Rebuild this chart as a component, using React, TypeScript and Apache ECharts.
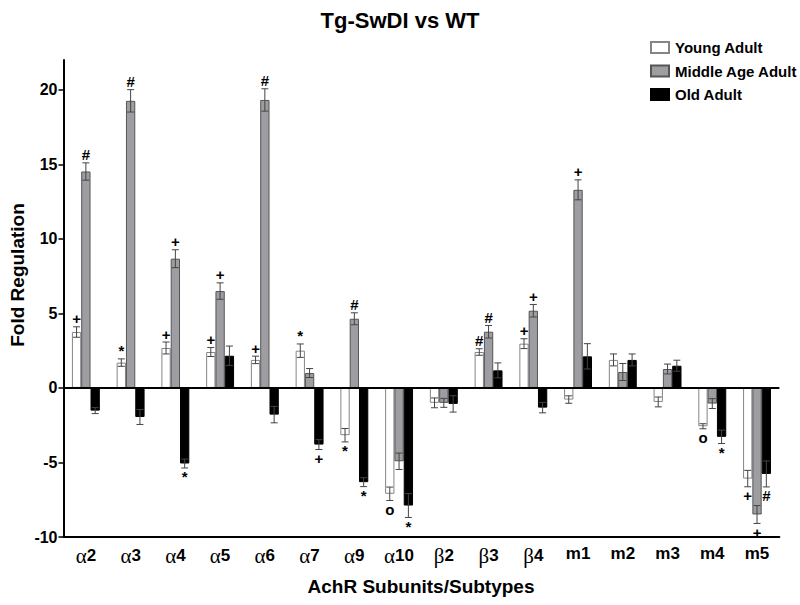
import React, { useEffect, useRef } from "react";
import * as echarts from "echarts";

const categories = ["α2", "α3", "α4", "α5", "α6", "α7", "α9", "α10", "β2", "β3", "β4", "m1", "m2", "m3", "m4", "m5"];

const young = [3.75, 1.7, 2.68, 2.41, 1.88, 2.5, -3.17, -7.1, -1.0, 2.41, 2.97, -0.78, 1.88, -0.94, -2.57, -6.08];
const youngErr = [0.35, 0.25, 0.4, 0.3, 0.25, 0.45, 0.45, 0.45, 0.33, 0.22, 0.33, 0.25, 0.4, 0.33, 0.17, 0.55];
const youngMarks = ["+", "*", "+", "+", "+", "*", "*", "o", "", "#", "+", "", "", "", "o", "+"];

const middle = [14.52, 19.26, 8.67, 6.5, 19.32, 1.0, 4.64, -4.92, -1.0, 3.77, 5.18, 13.29, 1.07, 1.27, -1.05, -8.49];
const middleErr = [0.58, 0.75, 0.6, 0.55, 0.75, 0.3, 0.4, 0.55, 0.3, 0.42, 0.42, 0.67, 0.57, 0.33, 0.33, 0.6];
const middleMarks = ["#", "#", "+", "+", "#", "", "#", "", "", "#", "+", "+", "", "", "", "+"];

const old = [-1.52, -1.95, -5.07, 2.16, -1.79, -3.8, -6.32, -7.89, -1.07, 1.18, -1.32, 2.12, 1.88, 1.49, -3.28, -5.77];
const oldErr = [0.2, 0.5, 0.3, 0.65, 0.55, 0.33, 0.3, 0.8, 0.55, 0.5, 0.35, 0.85, 0.4, 0.37, 0.45, 0.87];
const oldMarks = ["", "", "*", "", "", "+", "*", "*", "", "", "", "", "", "", "*", "#"];

const yTicks = [-10, -5, 0, 5, 10, 15, 20];

const FONT = "'Liberation Sans', Arial, sans-serif";
const BAR_FRAC = 0.208;

function errSeries(name: string, vals: number[], errs: number[], marks: string[], slot: number) {
  return {
    type: "custom",
    name: name + "-err",
    z: 10,
    silent: true,
    renderItem: (params: any, api: any) => {
      const i = api.value(0);
      const v = api.value(1);
      const e = api.value(2);
      const band = api.size([1, 0])[0];
      const dx = (slot - 1) * band * BAR_FRAC;
      const c = api.coord([i, v]);
      const x = c[0] + dx;
      const top = api.coord([i, v + e])[1];
      const bot = api.coord([i, v - e])[1];
      const cap = 3.5;
      const ls = { stroke: "#444", lineWidth: 1 };
      const children: any[] = [
        { type: "line", shape: { x1: x, y1: top, x2: x, y2: bot }, style: ls },
        { type: "line", shape: { x1: x - cap, y1: top, x2: x + cap, y2: top }, style: ls },
        { type: "line", shape: { x1: x - cap, y1: bot, x2: x + cap, y2: bot }, style: ls },
      ];
      const m = marks[params.dataIndex];
      if (m) {
        children.push({
          type: "text",
          x: x,
          y: v >= 0 ? top - 8 : bot + 9,
          style: {
            text: m,
            fill: "#000",
            font: "bold 15px " + FONT,
            textAlign: "center",
            textVerticalAlign: "middle",
          },
        });
      }
      return { type: "group", children };
    },
    data: vals.map((v, i) => [i, v, errs[i]]),
  };
}

export default function App() {
  const ref = useRef<HTMLDivElement>(null);
  useEffect(() => {
    document.body.style.margin = "0";
    const chart = echarts.init(ref.current!, null, { renderer: "svg" });
    const barBase = { type: "bar", barWidth: (BAR_FRAC * 100).toFixed(1) + "%", barGap: "0%" };
    chart.setOption({
      animation: false,
      backgroundColor: "#fff",
      title: {
        text: "Tg-SwDI vs WT",
        left: "center",
        top: 4,
        textStyle: { fontFamily: FONT, fontWeight: "bold", fontSize: 22, color: "#000" },
      },
      legend: {
        orient: "vertical",
        left: 645,
        top: 35,
        itemWidth: 18,
        itemHeight: 11,
        itemGap: 8.5,
        icon: "rect",
        data: ["Young Adult", "Middle Age Adult", "Old Adult"],
        textStyle: { fontFamily: FONT, fontWeight: "bold", fontSize: 15, color: "#000", padding: [0, 0, 0, 1] },
      },
      grid: { left: 63.5, right: 20.6, top: 60, bottom: 68 },
      xAxis: {
        type: "category",
        data: categories,
        position: "bottom",
        axisLine: { onZero: false, lineStyle: { color: "#000", width: 2 } },
        axisTick: { alignWithLabel: true, length: 5, lineStyle: { color: "#000", width: 1.5 } },
        axisLabel: {
          margin: 8,
          interval: 0,
          formatter: (v: string) =>
            v[0] === "α" || v[0] === "β" ? `{g|${v[0]}}{n|${v.slice(1)}}` : `{n|${v}}`,
          rich: {
            g: { fontFamily: "'Liberation Serif', 'DejaVu Serif', serif", fontSize: 21, color: "#000" },
            n: { fontFamily: FONT, fontWeight: "bold", fontSize: 17, color: "#000" },
          },
        },
      },
      yAxis: {
        type: "value",
        min: -10,
        max: 22,
        interval: 5,
        splitLine: { show: false },
        axisLine: { show: true, lineStyle: { color: "#000", width: 2 } },
        axisTick: { show: true, length: 5, customValues: yTicks, lineStyle: { color: "#000", width: 1.5 } },
        axisLabel: {
          customValues: yTicks,
          margin: 6,
          fontFamily: FONT,
          fontWeight: "bold",
          fontSize: 16,
          color: "#000",
        },
      },
      graphic: [
        {
          type: "text",
          x: 17,
          y: 275,
          rotation: Math.PI / 2,
          style: {
            text: "Fold Regulation",
            font: "bold 19px " + FONT,
            fill: "#000",
            textAlign: "center",
            textVerticalAlign: "middle",
          },
        },
        {
          type: "text",
          x: 421,
          y: 586,
          style: {
            text: "AchR Subunits/Subtypes",
            font: "bold 19px " + FONT,
            fill: "#000",
            textAlign: "center",
            textVerticalAlign: "middle",
          },
        },
      ],
      series: [
        {
          ...barBase,
          name: "Young Adult",
          data: young,
          itemStyle: { color: "#ffffff", borderColor: "#858585", borderWidth: 1 },
          markLine: {
            silent: true,
            symbol: "none",
            label: { show: false },
            lineStyle: { color: "#000", width: 2, type: "solid" },
            data: [{ yAxis: 0 }],
          },
        },
        {
          ...barBase,
          name: "Middle Age Adult",
          data: middle,
          itemStyle: { color: "#9e9ea2", borderColor: "#555", borderWidth: 1 },
        },
        {
          ...barBase,
          name: "Old Adult",
          data: old,
          itemStyle: { color: "#000000", borderColor: "#000", borderWidth: 1 },
        },
        errSeries("Young Adult", young, youngErr, youngMarks, 0),
        errSeries("Middle Age Adult", middle, middleErr, middleMarks, 1),
        errSeries("Old Adult", old, oldErr, oldMarks, 2),
      ],
    });
    return () => chart.dispose();
  }, []);
  return <div ref={ref} style={{ width: 800, height: 605 }} />;
}
